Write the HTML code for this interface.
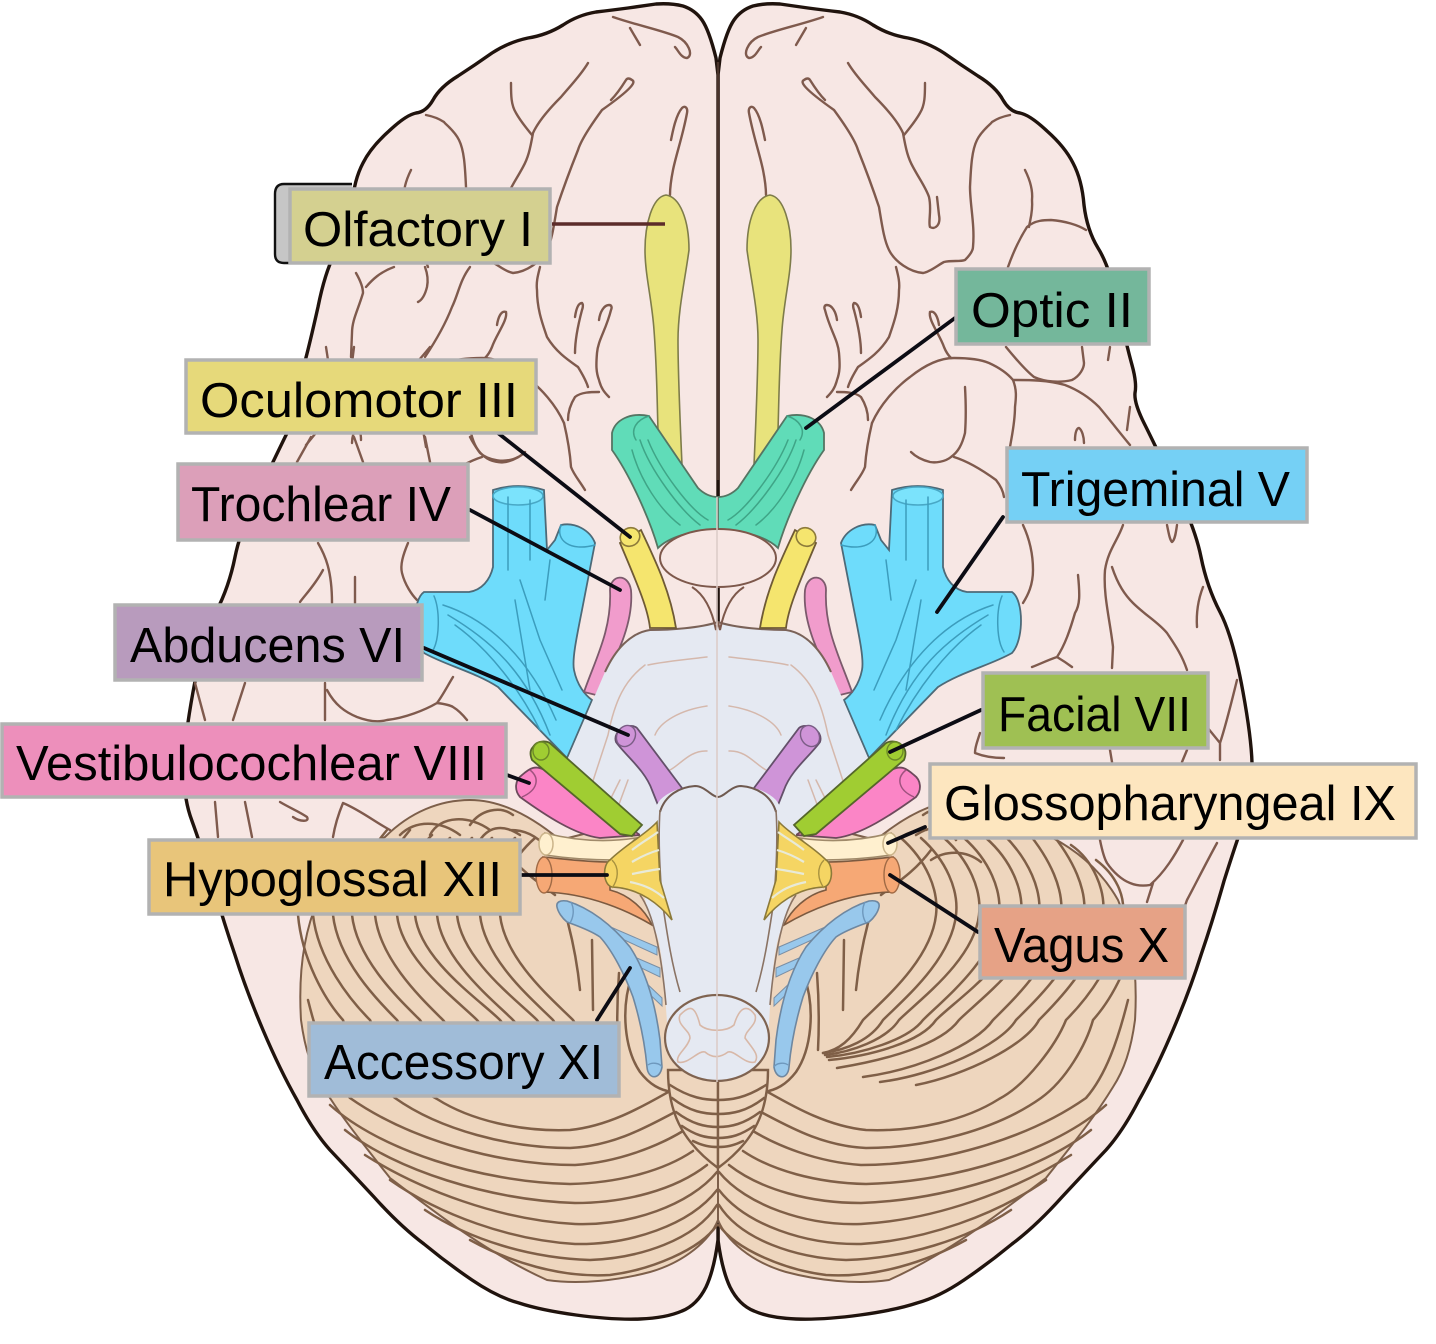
<!DOCTYPE html>
<html><head><meta charset="utf-8"><style>
html,body{margin:0;padding:0;background:#fff}
svg{display:block}
text{font-family:"Liberation Sans",sans-serif;font-size:49px;fill:#000}
.g{fill:none;stroke:#7f5a4d;stroke-width:2.4;stroke-linecap:round;stroke-linejoin:round}
.f{fill:none;stroke:#7f5f47;stroke-width:2.5;stroke-linecap:round}
.t{fill:none;stroke-width:1.5;stroke-linecap:round}
.l{fill:none;stroke:#0c0c14;stroke-width:3.8;stroke-linecap:round}
.b{stroke:#b2b2b2;stroke-width:3.5}
</style></head><body>
<svg xmlns="http://www.w3.org/2000/svg" width="1436" height="1344" viewBox="0 0 1436 1344">
<rect width="1436" height="1344" fill="#fff"/>
<defs>
<g id="cbr">
<path d="M718,75 L720,58 Q727,30 734,20 Q741,10 753,6 Q765,3 780,4 Q794,6 808,8 Q823,10 840,12 Q858,15 873,25 Q889,35 908,38 Q927,42 944,53 Q961,65 978,76 Q996,87 1003,100 Q1010,112 1020,113 Q1030,115 1047,131 Q1065,147 1073,163 Q1082,180 1084,205 Q1087,230 1098,248 Q1110,267 1118,307 Q1127,347 1132,365 Q1137,383 1135,393 Q1134,403 1144,423 Q1154,443 1174,485 Q1195,527 1201,557 Q1207,587 1220,612 Q1233,637 1243,692 Q1253,747 1252,773 Q1252,800 1244,821 Q1236,843 1224,881 Q1213,920 1201,955 Q1190,990 1173,1030 Q1156,1070 1139,1100 Q1123,1131 1106,1150 Q1089,1168 1062,1197 Q1036,1226 1012,1244 Q989,1263 964,1280 Q939,1297 917,1303 Q896,1310 860,1315 Q823,1320 796,1319 Q770,1318 754,1311 Q739,1305 730,1287 Q722,1270 718,1240 Z" fill="#f7e7e4" stroke="#20130d" stroke-width="3.4" stroke-linejoin="round"/>
<g class="g">
<path d="M823,17 C800,25 775,30 758,37 C748,42 742,55 749,58 C755,58 758,50 761,47"/>
<path d="M806,28 L796,45"/>
<path d="M810,80 C815,88 820,95 825,100 M804,80 Q808,77 810,80 M804,80 C800,82 803,88 834,110 C845,125 855,140 858,150 C868,175 875,195 879,207 C882,225 884,240 889,250 C895,262 910,272 923,273 C930,272 938,265 944,262 C952,260 960,262 965,260 C970,255 973,250 973,247 C975,225 970,205 970,187 C971,165 972,150 977,140 C982,130 990,125 992,122 C998,118 1005,116 1010,115"/>
<path d="M848,63 C855,75 865,85 875,97 C888,110 898,122 903,133 C906,150 908,158 913,167 C920,180 926,188 929,197 C932,210 928,222 930,227 C935,230 941,225 939,215 L937,197"/>
<path d="M925,83 C925,95 925,105 920,113 C915,122 908,130 904,135"/>
<path d="M749,113 C748,108 751,105 754,108 C760,115 763,130 765,140 M749,113 C753,135 760,155 763,170 C765,180 766,188 766,195"/>
<path d="M1025,170 C1030,180 1033,190 1032,200 C1033,212 1030,220 1029,227"/>
<path d="M1008,267 C1014,250 1020,238 1027,227 C1035,220 1045,220 1051,220 C1065,221 1078,225 1086,230"/>
<path d="M896,267 C898,275 900,282 899,290 C899,310 893,325 889,337 C880,352 868,360 858,367 C855,372 850,380 848,387"/>
<path d="M827,305 C832,305 836,312 837,320 M827,305 C824,305 824,308 825,310 C830,330 838,340 839,353 C840,365 840,372 837,380 C835,388 832,392 827,397"/>
<path d="M854,303 C858,303 860,310 861,317 M854,303 C852,305 854,310 854,310 C858,325 861,340 861,353"/>
<path d="M930,312 C935,310 938,318 939,325 M930,312 C928,320 940,335 944,347 C946,352 948,355 951,358"/>
<path d="M872,423 C880,405 895,388 910,377 C925,365 940,358 954,358 C970,358 982,360 989,363 C1000,368 1008,374 1013,380 C1017,390 1016,398 1015,407 C1015,422 1012,435 1010,447"/>
<path d="M1013,380 C1030,380 1048,380 1065,385 C1078,390 1090,398 1099,407 C1110,420 1120,433 1130,445"/>
<path d="M1006,347 C1015,358 1025,370 1034,377 C1045,382 1060,383 1072,380 C1080,376 1084,368 1084,363 L1082,347"/>
<path d="M1110,347 L1108,360 M1130,407 L1127,430"/>
<path d="M1075,440 C1075,432 1077,428 1079,428 C1082,430 1084,437 1084,443"/>
<path d="M965,387 C966,405 966,420 965,433 C962,445 958,452 951,457 C945,462 935,463 930,462 C922,460 915,456 911,452 M954,457 C970,462 985,472 996,480 C1000,485 1003,490 1004,497"/>
<path d="M872,423 C868,440 866,452 865,467 C862,475 857,480 851,490"/>
<path d="M837,392 C845,392 855,392 861,397 C866,405 868,412 868,420"/>
</g>
</g>
<g id="cbl">
<path d="M560,840 C530,815 500,800 470,800 C440,800 410,812 385,837 C360,850 335,870 318,900 C305,930 298,970 301,1020 C305,1050 312,1070 323,1087 C340,1115 360,1140 390,1178 C420,1200 480,1250 547,1280 C580,1285 620,1280 650,1272 C685,1262 710,1240 718,1220 L718,800 Z" fill="#eed6be" stroke="#7d5f4a" stroke-width="2"/>
<g class="f">
<path d="M613,1053 C597,1050 585,1040 573,1020 C553,1000 505,960 500,915 C497,890 510,860 535,838"/>
<path d="M613,1053 C590,1050 565,1040 553,1020 C533,1000 485,960 480,915 C477,890 490,860 515,838"/>
<path d="M611,1055 C585,1052 550,1040 537,1020 C517,1000 462,960 457,915 C454,890 467,860 492,838"/>
<path d="M609,1057 C575,1054 528,1040 513,1020 C493,1000 442,960 437,915 C434,890 447,860 472,838"/>
<path d="M607,1060 C565,1056 515,1042 500,1020 C480,1000 420,960 415,915 C412,890 425,860 450,838"/>
<path d="M599,1068 C550,1060 495,1045 477,1020 C457,1000 402,960 397,915 C394,890 407,860 432,835"/>
<path d="M573,1077 C520,1070 460,1045 443,1020 C423,1000 380,960 375,915 C372,890 385,860 410,830"/>
<path d="M556,1082 C500,1075 435,1045 420,1020 C400,1000 357,960 352,915 C349,890 362,860 387,830"/>
<path d="M520,1085 C470,1075 410,1045 397,1020 C377,1000 338,960 333,915 C330,890 343,860 365,845"/>
<path d="M670,1091 C645,1105 610,1126 570,1130 C520,1132 470,1120 437,1099 C410,1085 380,1045 370,1020 C350,1000 318,960 313,915 C311,895 320,875 340,860"/>
<path d="M677,1111 C650,1125 615,1146 570,1148 C510,1148 440,1130 395,1098 C370,1080 350,1045 343,1020 C325,1000 302,960 298,915"/>
<path d="M683,1131 C660,1145 620,1162 575,1165 C500,1165 410,1140 350,1098 C330,1075 318,1040 308,1000"/>
<path d="M693,1151 C665,1170 620,1183 570,1184 C480,1182 380,1150 330,1105"/>
<path d="M707,1165 C675,1190 625,1203 575,1203 C490,1200 395,1170 345,1130"/>
<path d="M717,1172 C690,1205 630,1226 575,1224 C500,1220 420,1190 365,1155"/>
<path d="M717,1190 C690,1225 630,1245 575,1244 C510,1240 440,1215 390,1180"/>
<path d="M717,1205 C695,1240 640,1258 590,1260 C530,1258 470,1240 425,1210"/>
<path d="M717,1225 C700,1250 650,1270 610,1275 C560,1278 510,1262 470,1240"/>
<path d="M592,940 L593,1010 M568,923 C575,950 578,970 580,990 M619,973 C617,1000 617,1030 618,1050"/>
<path d="M632,975 C620,1010 625,1050 640,1072 C650,1085 660,1090 672,1092"/>
<path d="M555,895 C535,880 520,870 505,850"/>
<path d="M470,825 C480,810 500,805 513,815 M430,835 C440,815 470,815 490,830 M400,835 C415,820 440,820 460,835 M520,835 C505,825 490,825 480,840 M548,848 C535,835 525,830 510,830 M505,860 C490,850 470,850 455,862"/>
</g>
<path d="M668,1070 C668,1110 680,1140 718,1168 L718,1070 Z" fill="#eed6be" stroke="#7f5f47" stroke-width="2.4"/>
<g class="f">
<path d="M670,1085 C690,1098 705,1100 718,1100"/>
<path d="M672,1098 C690,1112 705,1114 718,1114"/>
<path d="M676,1112 C692,1124 705,1127 718,1127"/>
<path d="M682,1126 C695,1135 705,1138 718,1138"/>
<path d="M693,1141 C703,1146 710,1147 718,1147"/>
</g>
</g>
<g id="ner">
<path d="M666,195 C652,197 645,225 645,250 C645,275 652,300 654,330 C657,370 657,400 658,430 L682,465 C680,420 678,370 678,340 C678,310 685,280 689,250 C689,220 680,197 666,195 Z" fill="#e8e37c" stroke="#7e7c4a" stroke-width="1.6"/>
<path d="M493,490 Q518,482 544,490 L547,550 L555,540 L561,525 C575,522 590,530 595,543 L582,610 C576,640 572,660 574,670 C577,685 585,695 592,700 L567,758 L498,687 C475,672 445,665 424,653 C412,640 412,600 424,592 L469,592 C482,590 490,580 493,567 Z" fill="#6edcfb" stroke="#4d6a78" stroke-width="1.8"/>
<g class="t" stroke="#3c9dbd">
<ellipse cx="518" cy="496" rx="25" ry="9" fill="#7be3fc" stroke="#48a8c6"/>
<path d="M561,525 C555,540 570,552 595,545"/>
<path d="M508,497 L508,570 M530,500 L530,560 M520,580 L540,640 L562,690 M515,600 L530,690 M550,560 L545,600"/>
<path d="M443,605 C490,620 530,660 556,720 M448,615 C490,640 525,670 550,735 M455,625 C490,650 520,690 540,730 M434,596 C440,610 440,640 432,652"/>
</g>
<path d="M610,590 C610,575 628,572 631,590 C634,625 615,660 596,695 L584,692 C595,660 612,630 610,590 Z" fill="#f19ccc" stroke="#7c5a6c" stroke-width="1.8"/>
<path d="M718,622 C700,628 670,630 650,630 C625,635 612,655 605,672 L568,758 L640,838 L718,838 Z" fill="#e5e9f2"/>
<path d="M718,622 C700,628 670,630 650,630 C630,633 615,650 605,672" fill="none" stroke="#7a6258" stroke-width="2"/>
<g class="t" stroke="#d5b8ac">
<path d="M707,657 C680,660 660,662 648,665 M645,665 C625,680 615,700 608,735 L590,790"/>
<path d="M707,706 C680,710 660,722 655,735 M707,751 C690,750 680,765 670,770"/>
<path d="M628,780 L615,815 M620,780 L610,800 M590,780 L575,815"/>
</g>
<path d="M620,543 C640,590 648,610 650,628 L676,628 C670,590 655,560 641,530 Z" fill="#f5e56e" stroke="#6f5a35" stroke-width="1.8"/>
<ellipse cx="630" cy="537" rx="10" ry="9" fill="#f5e56e" stroke="#8d7b3a" stroke-width="1.6" transform="rotate(-30 630 537)"/>
<path d="M612,433 C615,420 630,412 649,416 L698,488 C705,495 712,497 718,497 L718,530 C690,530 668,538 658,548 C650,520 630,475 612,450 Z" fill="#60dcb8" stroke="#557563" stroke-width="1.8"/>
<g class="t" stroke="#3fa587">
<path d="M649,416 C636,420 630,430 636,440"/>
<path d="M640,440 C650,470 680,510 700,525 M648,440 C660,470 690,510 708,520 M632,450 C640,480 660,510 680,525"/>
</g>
<path d="M616,742 C612,730 630,722 637,728 L682,788 L660,810 L652,790 C645,770 625,755 616,742 Z" fill="#cf94d8" stroke="#64506a" stroke-width="1.8"/>
<ellipse cx="626" cy="736" rx="9" ry="11" fill="#cf94d8" stroke="#7b5d86" stroke-width="1.4" transform="rotate(30 626 736)"/>
<path d="M522,775 C530,768 535,765 545,770 L640,835 L600,838 C575,835 545,815 520,797 C514,790 515,780 522,775 Z" fill="#fb85c6" stroke="#6d4a5c" stroke-width="1.8"/>
<path d="M530,770 C540,778 538,790 522,797" fill="none" stroke="#a0527f" stroke-width="1.5"/>
<path d="M533,747 C537,740 548,740 552,745 L642,825 L632,836 L620,834 L532,760 C530,755 530,750 533,747 Z" fill="#a0cd32" stroke="#55662a" stroke-width="1.8"/>
<ellipse cx="541" cy="751" rx="8" ry="9" fill="#a0cd32" stroke="#6d8a28" stroke-width="1.4"/>
<path d="M545,833 C580,842 610,842 636,838 L615,860 C590,860 565,858 545,855 Z" fill="#fff0cf" stroke="#a08a6a" stroke-width="1.6"/>
<ellipse cx="546" cy="844" rx="7" ry="11" fill="#fff0cf" stroke="#cbb48a" stroke-width="1.5"/>
<path d="M543,857 C565,859 585,862 610,862 L610,890 C630,895 645,910 652,925 C630,912 590,893 543,892 Z" fill="#f6a875" stroke="#7c5a40" stroke-width="1.6"/>
<ellipse cx="544" cy="875" rx="8" ry="18" fill="#f6a875" stroke="#a06a45" stroke-width="1.4"/>
<path d="M640,830 L660,800 C668,792 680,787 695,786 C705,786 712,795 718,797 L718,1040 L668,1040 C666,1010 664,950 655,930 C645,910 640,880 640,830 Z" fill="#e5e9f2"/>
<path d="M660,812 C665,795 680,787 695,786 C705,786 712,797 718,797" fill="none" stroke="#6f5a50" stroke-width="2"/>
<path d="M660,810 C658,840 660,870 662,900 C668,940 672,965 680,992 M640,895 C655,915 662,960 666,1005" fill="none" stroke="#8a7364" stroke-width="1.6"/>
<path d="M610,860 C625,845 645,835 657,822 L660,880 L672,920 C660,905 640,888 612,887 C603,885 602,865 610,860 Z" fill="#f5d563" stroke="#8c7a3a" stroke-width="1.6"/>
<path d="M612,860 C620,868 618,880 612,888" fill="none" stroke="#a8923f" stroke-width="1.4"/>
<path d="M632,850 C642,842 650,838 658,832 M632,862 C642,856 652,852 659,850 M632,874 C642,872 652,870 660,869 M630,882 C645,885 655,890 664,898" fill="none" stroke="#e8ead8" stroke-width="2.2"/>
<path d="M613,928 L657,947 L657,955 L620,938 Z M630,955 L660,968 L660,977 L635,965 Z M643,980 L662,998 L662,1006 L645,990 Z" fill="#98c8ec" stroke="#7a8fa5" stroke-width="1"/>
<path d="M557,907 C556,902 560,900 567,901 C590,908 612,925 630,947 C645,970 655,1000 660,1040 L662,1067 C660,1080 648,1080 647,1067 C645,1045 640,1020 633,997 C625,975 612,950 600,937 C590,930 575,925 567,922 C562,918 558,912 557,907 Z" fill="#98c8ec" stroke="#6e87a0" stroke-width="1.6"/>
<path d="M571,902 C575,910 573,918 570,923 M648,1065 C652,1062 660,1063 662,1067" fill="none" stroke="#6e98bd" stroke-width="1.4"/>
</g>
</defs>

<use href="#cbr"/>
<use href="#cbr" transform="translate(1436,0) scale(-1,1)"/>
<path d="M718,62 L718,480" stroke="#4a342b" stroke-width="2.4" fill="none"/>

<!-- left-only cortex lines -->
<g class="g">
<path d="M318,543 C325,555 332,570 332,603"/>
<path d="M323,570 C315,585 305,595 300,602"/>
<path d="M355,577 L355,603"/>
<path d="M408,543 C403,555 400,565 402,573 C405,585 412,595 417,600"/>
<path d="M195,683 L205,720 M245,683 L233,720 M325,683 L325,720"/>
<path d="M327,690 C335,705 345,712 357,717 C370,722 380,722 387,720 C405,718 425,710 437,703 C443,695 448,685 453,677 M437,703 C445,704 450,705 453,707 C458,710 463,715 467,720"/>
<path d="M215,802 L218,837 M245,802 L252,837"/>
<path d="M280,802 C290,808 300,812 307,817 C310,822 300,822 293,817"/>
<path d="M343,803 C338,815 335,825 333,837 M343,803 C360,810 375,822 390,830"/>
<path d="M311,437 L297,462 M354,437 L363,462 M425,437 L430,462 M470,437 C474,445 478,450 480,453 C488,460 505,464 518,457"/>
<path d="M356,273 C360,280 363,287 363,293 C358,310 352,320 352,333 L351,357 M394,267 C380,272 372,280 366,287"/>
<path d="M425,267 C428,275 428,282 427,287 C425,295 422,300 418,302"/>
<path d="M470,267 C460,280 458,295 452,307 C445,325 435,342 425,357"/>
<!-- right-only -->
<path d="M1023,525 C1030,540 1033,555 1033,570 C1033,585 1028,595 1023,603"/>
<path d="M1123,525 C1118,540 1108,550 1105,570 C1103,595 1110,620 1113,647 L1112,668"/>
<path d="M1112,567 C1118,585 1125,595 1133,603 C1145,615 1158,622 1167,633 C1175,645 1182,655 1187,670"/>
<path d="M1078,575 C1080,595 1080,605 1075,613 C1070,630 1065,645 1057,657 C1048,660 1040,664 1032,667 M1057,657 C1062,660 1068,664 1072,667"/>
<path d="M1167,525 C1169,535 1170,540 1172,542 C1175,540 1176,532 1177,525"/>
<path d="M1203,587 C1198,600 1196,612 1197,627"/>
<path d="M1237,680 C1232,700 1226,725 1220,743 C1216,738 1211,732 1207,727 M1220,743 L1220,760"/>
<path d="M1110,750 L1112,762 M1187,750 L1182,762"/>
<path d="M1100,840 C1102,850 1104,858 1107,863 C1113,872 1122,880 1130,883 C1137,886 1144,886 1150,885 C1165,872 1175,855 1183,840 M1153,883 L1147,902"/>
<path d="M1217,843 C1205,865 1195,885 1187,900 L1180,920"/>
<path d="M980,733 C977,742 975,748 975,753 C985,757 995,758 1004,758"/>
</g>

<use href="#cbl"/>
<use href="#cbl" transform="translate(1436,0) scale(-1,1)"/>
<use href="#ner"/>
<use href="#ner" transform="translate(1436,0) scale(-1,1)"/>

<ellipse cx="718" cy="558" rx="58" ry="29" fill="#f7e7e4" stroke="#7d584b" stroke-width="2"/>
<path d="M692,587 C705,595 712,610 716,630 L718,622 L720,630 C724,610 731,595 744,587" fill="none" stroke="#7d584b" stroke-width="2"/>
<ellipse cx="717" cy="1038" rx="52" ry="43" fill="#e5e9f2" stroke="#7f6350" stroke-width="2.2"/>
<path d="M680,1015 C690,1005 695,1005 700,1025 C708,1032 726,1032 734,1025 C740,1005 748,1005 755,1015 C758,1025 745,1030 745,1038 C752,1048 760,1055 755,1062 C745,1065 735,1050 728,1052 C720,1058 712,1058 705,1052 C698,1050 688,1065 678,1062 C675,1055 688,1048 690,1038 C690,1030 676,1025 680,1015 Z" fill="none" stroke="#d8b8a8" stroke-width="1.6"/>
<path d="M717,497 L717,1082" stroke="#dccbc6" stroke-width="1.5"/>

<!-- connectors -->
<path d="M552,224 L665,224" fill="none" stroke="#5c2c2a" stroke-width="3.4"/>
<g class="l">
<path d="M955,318 L806,428"/>
<path d="M498,433 L630,537"/>
<path d="M470,510 L620,590"/>
<path d="M1003,517 L937,612"/>
<path d="M424,648 L628,735"/>
<path d="M981,710 L890,752"/>
<path d="M507,775 L529,783"/>
<path d="M925,827 L888,843"/>
<path d="M522,875 L607,875"/>
<path d="M978,932 L890,875"/>
<path d="M597,1020 L630,968"/>
</g>

<!-- labels -->
<path d="M352,184 L284,184 Q275,184 275,194 L275,254 Q275,263 284,263 L300,263 L300,190 L352,190 Z" fill="#c6c6c6"/>
<path d="M352,184 L284,184 Q275,184 275,194 L275,254 Q275,263 284,263 L296,263" fill="none" stroke="#111" stroke-width="2.4"/>
<rect class="b" x="290" y="189" width="260" height="74" fill="#d4d090"/>
<text x="303" y="246" textLength="230" lengthAdjust="spacingAndGlyphs">Olfactory I</text>
<rect class="b" x="956" y="269" width="193" height="75" fill="#74b79b"/>
<text x="971" y="327" textLength="162" lengthAdjust="spacingAndGlyphs">Optic II</text>
<rect class="b" x="186" y="360" width="350" height="73" fill="#e6d97a"/>
<text x="200" y="417" textLength="318" lengthAdjust="spacingAndGlyphs">Oculomotor III</text>
<rect class="b" x="178" y="464" width="290" height="76" fill="#dc9fb9"/>
<text x="191" y="521" textLength="260" lengthAdjust="spacingAndGlyphs">Trochlear IV</text>
<rect class="b" x="1007" y="448" width="300" height="74" fill="#75d0f5"/>
<text x="1021" y="506" textLength="269" lengthAdjust="spacingAndGlyphs">Trigeminal V</text>
<rect class="b" x="115" y="605" width="307" height="75" fill="#b89bbd"/>
<text x="130" y="662" textLength="275" lengthAdjust="spacingAndGlyphs">Abducens VI</text>
<rect class="b" x="983" y="673" width="225" height="75" fill="#9fc053"/>
<text x="998" y="731" textLength="193" lengthAdjust="spacingAndGlyphs">Facial VII</text>
<rect class="b" x="2" y="724" width="504" height="73" fill="#ed8fbb"/>
<text x="16" y="780" textLength="471" lengthAdjust="spacingAndGlyphs">Vestibulocochlear VIII</text>
<rect class="b" x="930" y="764" width="486" height="74" fill="#fde6bf"/>
<text x="944" y="820" textLength="452" lengthAdjust="spacingAndGlyphs">Glossopharyngeal IX</text>
<rect class="b" x="149" y="840" width="371" height="74" fill="#e8c57a"/>
<text x="163" y="896" textLength="339" lengthAdjust="spacingAndGlyphs">Hypoglossal XII</text>
<rect class="b" x="980" y="906" width="205" height="72" fill="#e6a286"/>
<text x="994" y="962" textLength="175" lengthAdjust="spacingAndGlyphs">Vagus X</text>
<rect class="b" x="309" y="1023" width="310" height="73" fill="#a0bcd8"/>
<text x="324" y="1079" textLength="279" lengthAdjust="spacingAndGlyphs">Accessory XI</text>
</svg>
</body></html>
